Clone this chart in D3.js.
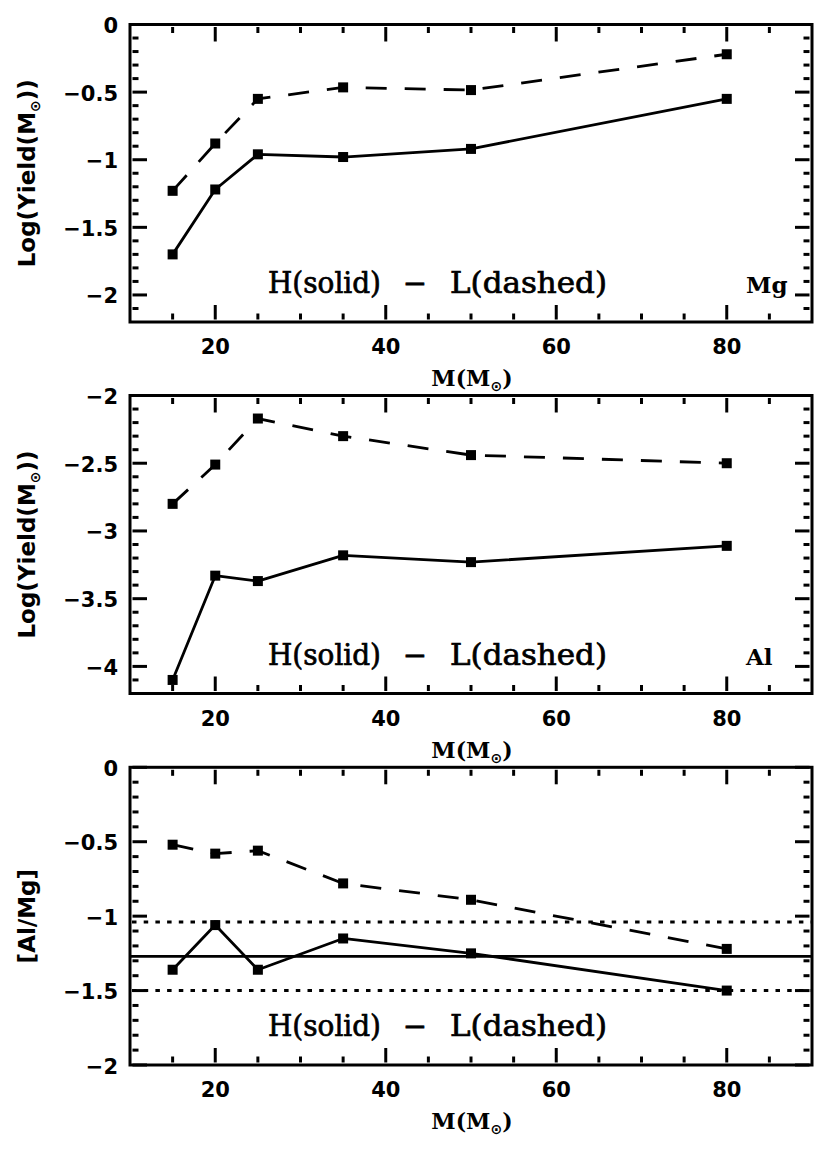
<!DOCTYPE html>
<html><head><meta charset="utf-8">
<script src="https://cdn.jsdelivr.net/npm/d3@7"></script>
<style>body{margin:0;background:#fff}</style>
</head><body>
<svg id="c" width="830" height="1150" xmlns="http://www.w3.org/2000/svg"></svg>
<script>
// ---- data ----
const masses = [15, 20, 25, 35, 50, 80];
const mgH = [-1.70, -1.22, -0.96, -0.98, -0.92, -0.55];
const mgL = [-1.23, -0.88, -0.55, -0.465, -0.485, -0.22];
const alH = [-4.10, -3.33, -3.37, -3.18, -3.23, -3.11];
const alL = [-2.80, -2.51, -2.17, -2.30, -2.44, -2.50];
const ratioH = [-1.36, -1.06, -1.36, -1.15, -1.25, -1.50];
const ratioL = [-0.52, -0.58, -0.56, -0.78, -0.89, -1.22];
const ratioMean = -1.27;
const ratioBand = [-1.04, -1.50];
const xMajorTicks = [20, 40, 60, 80];
const mgYTicks = [0, -0.5, -1, -1.5, -2];
const alYTicks = [-2, -2.5, -3, -3.5, -4];
const ratioYTicks = [0, -0.5, -1, -1.5, -2];
const annotation = ["H(solid)", "\u2212", "L(dashed)"];

// ---- layout ----
const svg = d3.select("#c");
svg.append("rect").attr("width", 830).attr("height", 1150).attr("fill", "#fff");
const left = 130, right = 812;
const x = d3.scaleLinear().domain([10, 90]).range([left, right]);
const xMinor = d3.range(15, 90, 5).filter(v => xMajorTicks.indexOf(v) < 0);
const fmt = d3.format("");

const panels = [
  {top: 24.5, bottom: 322, dom: [-2.2, 0], major: mgYTicks, ylab: "Log(Yield(M", ylabEnd: "))", elem: "Mg", H: mgH, L: mgL},
  {top: 395.5, bottom: 693.5, dom: [-4.2, -2], major: alYTicks, ylab: "Log(Yield(M", ylabEnd: "))", elem: "Al", H: alH, L: alL},
  {top: 767.3, bottom: 1065, dom: [-2, 0], major: ratioYTicks, ylab: "[Al/Mg]", ylabEnd: null, elem: null, H: ratioH, L: ratioL, ref: true}
];

const tickFont = "DejaVu Sans, sans-serif";
const serif = "DejaVu Serif, serif";
const majLen = 17, minLen = 8.5, gap = 2.5;

panels.forEach(p => {
  const y = d3.scaleLinear().domain(p.dom).range([p.bottom, p.top]);
  const g = svg.append("g");
  const yMinor = d3.range(Math.round(p.dom[0] * 10) + 1, Math.round(p.dom[1] * 10))
    .map(v => v / 10).filter(v => !p.major.some(m => Math.abs(m - v) < 1e-6));

  // tick marks, inward on all four sides
  const segs = [];
  xMajorTicks.forEach(v => { segs.push([x(v), p.bottom - gap, x(v), p.bottom - majLen], [x(v), p.top + gap, x(v), p.top + majLen]); });
  xMinor.forEach(v => { segs.push([x(v), p.bottom - gap, x(v), p.bottom - minLen], [x(v), p.top + gap, x(v), p.top + minLen]); });
  p.major.forEach(v => { segs.push([left + gap, y(v), left + majLen, y(v)], [right - gap, y(v), right - majLen, y(v)]); });
  yMinor.forEach(v => { segs.push([left + gap, y(v), left + minLen, y(v)], [right - gap, y(v), right - minLen, y(v)]); });
  g.selectAll(null).data(segs).enter().append("line")
    .attr("x1", d => d[0]).attr("y1", d => d[1]).attr("x2", d => d[2]).attr("y2", d => d[3])
    .style("stroke", "#000").style("stroke-width", "3px");

  // tick labels
  g.selectAll(null).data(xMajorTicks).enter().append("text")
    .attr("x", d => x(d)).attr("y", p.bottom + 32).attr("text-anchor", "middle")
    .attr("font-family", tickFont).attr("font-weight", "bold").attr("font-size", 21).attr("fill", "#000")
    .text(fmt);
  g.selectAll(null).data(p.major).enter().append("text")
    .attr("x", left - 12).attr("y", d => y(d) + 8.5).attr("text-anchor", "end")
    .attr("font-family", tickFont).attr("font-weight", "bold").attr("font-size", 21).attr("fill", "#000")
    .text(fmt);

  // reference lines
  if (p.ref) {
    g.append("line").attr("x1", left).attr("x2", right).attr("y1", y(ratioMean)).attr("y2", y(ratioMean))
      .attr("stroke", "#000").attr("stroke-width", 2.8);
    ratioBand.forEach(v => {
      g.append("line").attr("x1", left + 2).attr("x2", right).attr("y1", y(v)).attr("y2", y(v))
        .attr("stroke", "#000").attr("stroke-width", 3).attr("stroke-dasharray", "4.5,7.2");
    });
  }

  // frame
  g.append("rect").attr("x", left).attr("y", p.top).attr("width", right - left).attr("height", p.bottom - p.top)
    .attr("fill", "none").attr("stroke", "#000").attr("stroke-width", 3);

  const line = d3.line().x(d => x(d[0])).y(d => y(d[1]));
  const solid = masses.map((m, i) => [m, p.H[i]]);
  const dashed = masses.map((m, i) => [m, p.L[i]]);
  g.append("path").attr("d", line(solid)).attr("fill", "none").attr("stroke", "#000").attr("stroke-width", 2.8)
    .attr("stroke-linejoin", "round");
  g.append("path").attr("d", line(dashed)).attr("fill", "none").attr("stroke", "#000").attr("stroke-width", 2.8)
    .attr("stroke-dasharray", "21,18");
  const sq = 10;
  [solid, dashed].forEach(s => {
    g.selectAll(null).data(s).enter().append("rect")
      .attr("x", d => x(d[0]) - sq / 2).attr("y", d => y(d[1]) - sq / 2)
      .attr("width", sq).attr("height", sq).attr("fill", "#000");
  });

  // annotation
  const base = p.bottom - 29;
  const ann = (xx, t, anchor, tl) => {
    const e = g.append("text").attr("x", xx).attr("y", base).attr("font-family", serif).attr("font-size", 29)
      .attr("fill", "#000").attr("stroke", "#000").attr("stroke-width", 0.7).attr("text-anchor", anchor).text(t);
    if (tl) e.attr("textLength", tl).attr("lengthAdjust", "spacingAndGlyphs");
  };
  ann(left + 138, annotation[0], "start", 113);
  ann(left + 285, annotation[1], "middle", null);
  ann(left + 320, annotation[2], "start", 157);
  if (p.elem) {
    g.append("text").attr("x", left + 616).attr("y", base).attr("font-family", serif).attr("font-weight", "bold")
      .attr("font-size", 23).attr("fill", "#000").text(p.elem);
  }

  // x label
  const xl = g.append("text").attr("x", (left + right) / 2 + 1).attr("y", p.bottom + 64)
    .attr("text-anchor", "middle").attr("font-family", serif).attr("font-weight", "bold")
    .attr("font-size", 22).attr("fill", "#000");
  xl.append("tspan").text("M(M");
  xl.append("tspan").attr("font-size", 14).attr("dy", 5).attr("font-family", "DejaVu Sans, sans-serif").text("\u2299");
  xl.append("tspan").attr("dy", -5).text(")");

  // y label
  const yc = (p.top + p.bottom) / 2;
  const yl = g.append("text").attr("transform", `translate(35,${yc}) rotate(-90)`)
    .attr("text-anchor", "middle").attr("font-family", tickFont).attr("font-weight", "bold")
    .attr("font-size", 23).attr("fill", "#000");
  yl.append("tspan").text(p.ylab);
  if (p.ylabEnd) {
    yl.append("tspan").attr("font-size", 14).attr("dy", 5).text("\u2299");
    yl.append("tspan").attr("dy", -5).text(p.ylabEnd);
  }
});
</script>
</body></html>
